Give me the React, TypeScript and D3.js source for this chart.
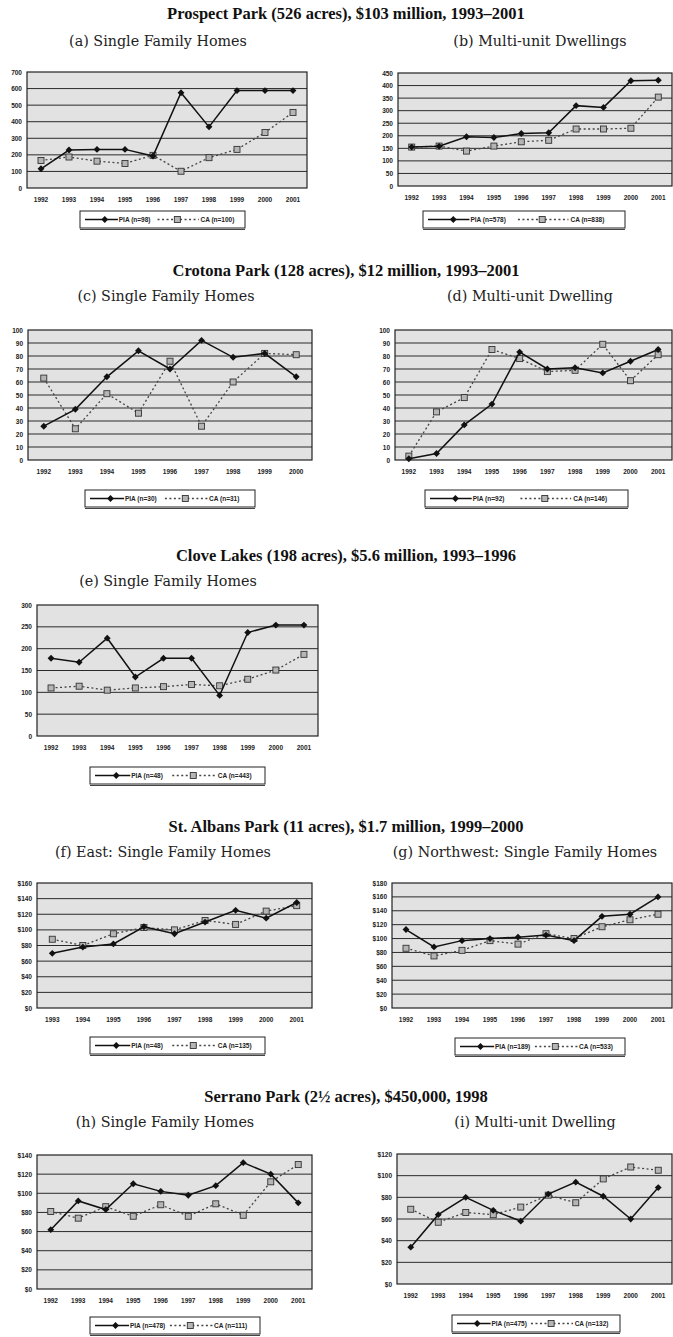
import { useEffect, useRef } from "react";
import * as d3 from "d3";

// categories
const years92to01 = ["1992", "1993", "1994", "1995", "1996", "1997", "1998", "1999", "2000", "2001"];
const years92to00 = ["1992", "1993", "1994", "1995", "1996", "1997", "1998", "1999", "2000"];
const years93to01 = ["1993", "1994", "1995", "1996", "1997", "1998", "1999", "2000", "2001"];

// Prospect Park
const ppSinglePIA = [116, 229, 233, 233, 193, 575, 369, 588, 588, 588];
const ppSingleCA = [166, 187, 162, 148, 197, 101, 183, 233, 335, 456];
const ppMultiPIA = [155, 158, 196, 193, 209, 212, 320, 313, 419, 421];
const ppMultiCA = [155, 159, 139, 159, 176, 182, 227, 227, 230, 354];
// Crotona Park
const cpSinglePIA = [26, 39, 64, 84, 70, 92, 79, 82, 64];
const cpSingleCA = [63, 24, 51, 36, 76, 26, 60, 82, 81];
const cpMultiPIA = [1, 5, 27, 43, 83, 70, 71, 67, 76, 85];
const cpMultiCA = [3, 37, 48, 85, 78, 68, 69, 89, 61, 81];
// Clove Lakes
const clSinglePIA = [178, 169, 224, 135, 178, 178, 93, 237, 254, 254];
const clSingleCA = [110, 114, 105, 110, 113, 118, 115, 130, 151, 187];
// St. Albans Park
const saEastPIA = [70, 78, 82, 104, 95, 110, 125, 115, 135];
const saEastCA = [88, 80, 95, 103, 100, 112, 107, 124, 131];
const saNwPIA = [113, 88, 97, 100, 102, 105, 97, 132, 135, 160];
const saNwCA = [86, 75, 83, 97, 92, 107, 100, 117, 127, 135];
// Serrano Park
const spSinglePIA = [62, 92, 83, 110, 102, 98, 108, 132, 120, 90];
const spSingleCA = [81, 74, 86, 76, 88, 76, 89, 77, 112, 130];
const spMultiPIA = [34, 64, 80, 68, 58, 83, 94, 81, 60, 89];
const spMultiCA = [69, 57, 66, 64, 71, 82, 75, 97, 108, 105];

// y tick values
const ticks0to700 = [0, 100, 200, 300, 400, 500, 600, 700];
const ticks0to450 = [0, 50, 100, 150, 200, 250, 300, 350, 400, 450];
const ticks0to100 = [0, 10, 20, 30, 40, 50, 60, 70, 80, 90, 100];
const ticks0to300 = [0, 50, 100, 150, 200, 250, 300];
const ticks0to160 = [0, 20, 40, 60, 80, 100, 120, 140, 160];
const ticks0to180 = [0, 20, 40, 60, 80, 100, 120, 140, 160, 180];
const ticks0to140 = [0, 20, 40, 60, 80, 100, 120, 140];
const ticks0to120 = [0, 20, 40, 60, 80, 100, 120];

const sectionTitles = [
  "Prospect Park (526 acres), $103 million, 1993\u20132001",
  "Crotona Park (128 acres), $12 million, 1993\u20132001",
  "Clove Lakes (198 acres), $5.6 million, 1993\u20131996",
  "St. Albans Park (11 acres), $1.7 million, 1999\u20132000",
  "Serrano Park (2\u00bd acres), $450,000, 1998",
];

const panels = [
  { sub: "(a) Single Family Homes", cats: years92to01, pia: ppSinglePIA, ca: ppSingleCA, ticks: ticks0to700, dollar: false, piaN: "PIA (n=98)", caN: "CA (n=100)" },
  { sub: "(b) Multi-unit Dwellings", cats: years92to01, pia: ppMultiPIA, ca: ppMultiCA, ticks: ticks0to450, dollar: false, piaN: "PIA (n=578)", caN: "CA (n=838)" },
  { sub: "(c) Single Family Homes", cats: years92to00, pia: cpSinglePIA, ca: cpSingleCA, ticks: ticks0to100, dollar: false, piaN: "PIA (n=30)", caN: "CA (n=31)" },
  { sub: "(d) Multi-unit Dwelling", cats: years92to01, pia: cpMultiPIA, ca: cpMultiCA, ticks: ticks0to100, dollar: false, piaN: "PIA (n=92)", caN: "CA (n=146)" },
  { sub: "(e) Single Family Homes", cats: years92to01, pia: clSinglePIA, ca: clSingleCA, ticks: ticks0to300, dollar: false, piaN: "PIA (n=48)", caN: "CA (n=443)" },
  { sub: "(f) East: Single Family Homes", cats: years93to01, pia: saEastPIA, ca: saEastCA, ticks: ticks0to160, dollar: true, piaN: "PIA (n=48)", caN: "CA (n=135)" },
  { sub: "(g) Northwest: Single Family Homes", cats: years92to01, pia: saNwPIA, ca: saNwCA, ticks: ticks0to180, dollar: true, piaN: "PIA (n=189)", caN: "CA (n=533)" },
  { sub: "(h) Single Family Homes", cats: years92to01, pia: spSinglePIA, ca: spSingleCA, ticks: ticks0to140, dollar: true, piaN: "PIA (n=478)", caN: "CA (n=111)" },
  { sub: "(i) Multi-unit Dwelling", cats: years92to01, pia: spMultiPIA, ca: spMultiCA, ticks: ticks0to120, dollar: true, piaN: "PIA (n=475)", caN: "CA (n=132)" },
];

// page layout: plot box [left, top, right, bottom], legend [x, y, w, h], subtitle centre
const layout = [
  { box: [27, 72, 307, 188], legend: [80, 211, 165, 17], subX: 158, subY: 46 },
  { box: [398, 73, 672, 186], legend: [423, 211, 202, 17], subX: 540, subY: 46 },
  { box: [28, 330, 312, 460], legend: [85, 490, 170, 17], subX: 166, subY: 301 },
  { box: [395, 330, 672, 460], legend: [425, 490, 203, 17], subX: 530, subY: 301 },
  { box: [37, 605, 318, 736], legend: [90, 767, 175, 17], subX: 168, subY: 586 },
  { box: [37, 883, 312, 1008], legend: [90, 1037, 175, 17], subX: 163, subY: 857 },
  { box: [392, 883, 672, 1008], legend: [455, 1038, 170, 17], subX: 525, subY: 857 },
  { box: [37, 1155, 312, 1289], legend: [90, 1317, 170, 17], subX: 165, subY: 1127 },
  { box: [397, 1154, 672, 1284], legend: [452, 1315, 168, 17], subX: 535, subY: 1127 },
];
const titleY = [19, 276, 561, 832, 1102];

const tickFont = "'Liberation Sans', Arial, sans-serif";
const titleFont = "'Liberation Serif', 'Times New Roman', serif";
const subFont = "'DejaVu Serif', serif";

const drawPanel = (svg, p, L) => {
  const [x0, y0, x1, y1] = L.box;
  const x = d3.scaleBand().domain(p.cats).range([x0, x1]);
  const y = d3.scaleLinear().domain([0, d3.max(p.ticks)]).range([y1, y0]);
  const cx = (i) => x(p.cats[i]) + x.bandwidth() / 2;

  const g = svg.append("g");

  // plot area
  g.append("rect")
    .attr("x", x0)
    .attr("y", y0)
    .attr("width", x1 - x0)
    .attr("height", y1 - y0)
    .attr("fill", "#e2e2e2");

  // gridlines
  g.selectAll(".grid")
    .data(p.ticks.slice(1, -1))
    .enter()
    .append("line")
    .attr("x1", x0)
    .attr("x2", x1)
    .attr("y1", (d) => y(d))
    .attr("y2", (d) => y(d))
    .attr("stroke", "#2a2a2a")
    .attr("stroke-width", 1);

  g.append("rect")
    .attr("x", x0)
    .attr("y", y0)
    .attr("width", x1 - x0)
    .attr("height", y1 - y0)
    .attr("fill", "none")
    .attr("stroke", "#222")
    .attr("stroke-width", 1.2);

  // y axis
  const yAxis = d3
    .axisLeft(y)
    .tickValues(p.ticks)
    .tickSize(0)
    .tickPadding(5)
    .tickFormat((d) => (p.dollar ? `$${d}` : `${d}`));
  g.append("g").attr("transform", `translate(${x0},0)`).call(yAxis);

  // x axis
  const xAxis = d3.axisBottom(x).tickSize(0).tickPadding(9);
  g.append("g").attr("transform", `translate(0,${y1})`).call(xAxis);

  g.selectAll(".domain").remove();
  g.selectAll(".tick text")
    .style("font-family", tickFont)
    .style("font-size", "6.5px")
    .style("font-weight", "bold")
    .attr("fill", "#222");

  // CA dashed line with squares
  const line = d3
    .line()
    .x((d, i) => cx(i))
    .y((d) => y(d));
  g.append("path")
    .datum(p.ca)
    .attr("d", line)
    .attr("fill", "none")
    .attr("stroke", "#444")
    .attr("stroke-width", 1.3)
    .attr("stroke-dasharray", "2,2.5");
  g.selectAll(".ca")
    .data(p.ca)
    .enter()
    .append("rect")
    .attr("x", (d, i) => cx(i) - 3)
    .attr("y", (d) => y(d) - 3)
    .attr("width", 6)
    .attr("height", 6)
    .attr("fill", "#b5b5b5")
    .attr("stroke", "#333")
    .attr("stroke-width", 0.9);

  // PIA solid line with diamonds
  g.append("path")
    .datum(p.pia)
    .attr("d", line)
    .attr("fill", "none")
    .attr("stroke", "#111")
    .attr("stroke-width", 1.5);
  const diamond = d3.symbol().type(d3.symbolDiamond2 || d3.symbolDiamond).size(30);
  g.selectAll(".pia")
    .data(p.pia)
    .enter()
    .append("path")
    .attr("d", diamond)
    .attr("transform", (d, i) => `translate(${cx(i)},${y(d)})`)
    .attr("fill", "#111");

  // legend
  const [lx, ly, lw, lh] = L.legend;
  const lg = g.append("g").attr("transform", `translate(${lx},${ly})`);
  lg.append("rect")
    .attr("width", lw)
    .attr("height", lh)
    .attr("fill", "#fff")
    .attr("stroke", "#222")
    .attr("stroke-width", 1);
  lg.append("line")
    .attr("x1", 0)
    .attr("x2", lw)
    .attr("y1", lh + 1.5)
    .attr("y2", lh + 1.5)
    .attr("stroke", "#444")
    .attr("stroke-width", 1);
  const my = lh / 2;
  lg.append("line")
    .attr("x1", 5)
    .attr("x2", lw * 0.23)
    .attr("y1", my)
    .attr("y2", my)
    .attr("stroke", "#111")
    .attr("stroke-width", 1.5);
  lg.append("path")
    .attr("d", diamond)
    .attr("transform", `translate(${lw * 0.15},${my})`)
    .attr("fill", "#111");
  lg.append("text")
    .attr("x", lw * 0.235)
    .attr("y", my)
    .attr("dy", "0.35em")
    .style("font-family", tickFont)
    .style("font-size", "6.5px")
    .style("font-weight", "bold")
    .attr("fill", "#222")
    .text(p.piaN);
  lg.append("line")
    .attr("x1", lw * 0.47)
    .attr("x2", lw * 0.72)
    .attr("y1", my)
    .attr("y2", my)
    .attr("stroke", "#444")
    .attr("stroke-width", 1.3)
    .attr("stroke-dasharray", "2,2.5");
  lg.append("rect")
    .attr("x", lw * 0.59 - 3)
    .attr("y", my - 3)
    .attr("width", 6)
    .attr("height", 6)
    .attr("fill", "#b5b5b5")
    .attr("stroke", "#333")
    .attr("stroke-width", 0.9);
  lg.append("text")
    .attr("x", lw * 0.73)
    .attr("y", my)
    .attr("dy", "0.35em")
    .style("font-family", tickFont)
    .style("font-size", "6.5px")
    .style("font-weight", "bold")
    .attr("fill", "#222")
    .text(p.caN);

  // subtitle
  svg.append("text")
    .attr("x", L.subX)
    .attr("y", L.subY)
    .attr("text-anchor", "middle")
    .style("font-family", subFont)
    .style("font-size", "14.3px")
    .attr("fill", "#222")
    .text(p.sub);
};

const App = () => {
  const chartRef = useRef(null);

  useEffect(() => {
    const width = 673;
    const height = 1337;

    const svg = d3
      .select(chartRef.current)
      .append("svg")
      .attr("width", width)
      .attr("height", height)
      .style("display", "block")
      .style("background", "#fff");

    // section titles
    svg.selectAll(".title")
      .data(sectionTitles)
      .enter()
      .append("text")
      .attr("x", 346)
      .attr("y", (d, i) => titleY[i])
      .attr("text-anchor", "middle")
      .style("font-family", titleFont)
      .style("font-size", "16.5px")
      .style("font-weight", "bold")
      .attr("fill", "#111")
      .text((d) => d);

    panels.forEach((p, i) => drawPanel(svg, p, layout[i]));

    return () => {
      // eslint-disable-next-line react-hooks/exhaustive-deps
      d3.select(chartRef.current).selectAll("*").remove();
    };
  }, []);

  return <div ref={chartRef} style={{ position: "absolute", left: 0, top: 0 }}></div>;
};

export default App;
